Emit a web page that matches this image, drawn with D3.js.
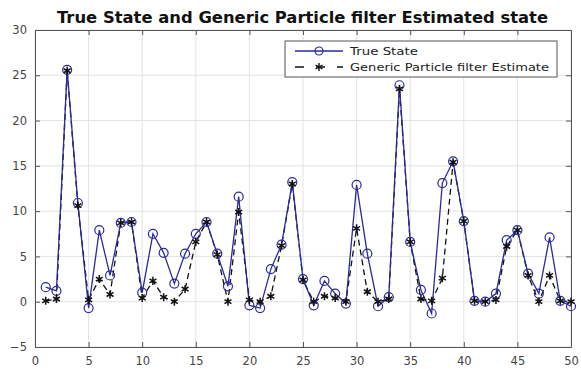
<!DOCTYPE html>
<html>
<head>
<meta charset="utf-8">
<script src="https://cdn.jsdelivr.net/npm/d3@7"></script>
<style>
  body { margin: 0; background: #fff; }
  svg { font-family: "DejaVu Sans", Verdana, sans-serif; }
</style>
</head>
<body>
<script>
// time steps 1..50
const steps = d3.range(1, 51);

const trueState = [
  1.6, 1.2, 25.6, 10.9, -0.7, 7.9, 2.9, 8.7, 8.8, 1.0,
  7.5, 5.4, 2.0, 5.3, 7.5, 8.8, 5.3, 1.7, 11.6, -0.4,
  -0.7, 3.6, 6.3, 13.2, 2.5, -0.4, 2.3, 0.9, -0.2, 12.9,
  5.3, -0.5, 0.5, 23.9, 6.6, 1.3, -1.3, 13.1, 15.5, 8.9,
  0.1, 0.0, 0.9, 6.8, 7.9, 3.1, 0.9, 7.1, 0.1, -0.5
];

const estimate = [
  0.1, 0.3, 25.5, 10.6, 0.2, 2.5, 0.8, 8.7, 8.8, 0.4,
  2.3, 0.5, 0.0, 1.4, 6.6, 8.8, 5.2, 0.0, 9.9, 0.2,
  0.0, 0.6, 6.2, 13.0, 2.4, 0.0, 0.6, 0.4, 0.0, 8.1,
  1.1, 0.0, 0.3, 23.5, 6.6, 0.3, 0.1, 2.6, 15.4, 8.9,
  0.1, 0.0, 0.2, 6.1, 7.9, 2.9, 0.0, 2.9, 0.1, 0.0
];

const xTicks = [0, 5, 10, 15, 20, 25, 30, 35, 40, 45, 50];
const yTicks = [-5, 0, 5, 10, 15, 20, 25, 30];

const width = 581, height = 369;
const margin = { top: 30, right: 10, bottom: 22, left: 35 };

const x = d3.scaleLinear().domain([0, 50]).range([margin.left, width - margin.right]);
const y = d3.scaleLinear().domain([-5, 30]).range([height - margin.bottom, margin.top]);

const svg = d3.select("body").append("svg")
    .attr("width", width)
    .attr("height", height);

// grid
svg.append("g")
    .attr("stroke", "#e3e3e3")
    .attr("stroke-width", 1)
  .selectAll("line")
  .data(xTicks)
  .join("line")
    .attr("x1", d => x(d)).attr("x2", d => x(d))
    .attr("y1", y(-5)).attr("y2", y(30));
svg.append("g")
    .attr("stroke", "#e3e3e3")
    .attr("stroke-width", 1)
  .selectAll("line")
  .data(yTicks)
  .join("line")
    .attr("x1", x(0)).attr("x2", x(50))
    .attr("y1", d => y(d)).attr("y2", d => y(d));

// axes (box style, ticks inward)
const axisStyle = g => {
  g.select(".domain").attr("stroke", "#555");
  g.selectAll(".tick line").attr("stroke", "#555");
  g.selectAll(".tick text")
    .attr("fill", "#444")
    .attr("font-size", 11.5)
    .attr("font-family", "DejaVu Sans, sans-serif");
};
svg.append("g")
    .attr("transform", `translate(0,${y(-5)})`)
    .call(d3.axisBottom(x).tickValues(xTicks).tickSizeInner(-5).tickSizeOuter(0).tickPadding(10))
    .call(axisStyle);
svg.append("g")
    .attr("transform", `translate(0,${y(30)})`)
    .call(d3.axisTop(x).tickValues(xTicks).tickSizeInner(-5).tickSizeOuter(0).tickFormat(""))
    .call(axisStyle);
svg.append("g")
    .attr("transform", `translate(${x(0)},0)`)
    .call(d3.axisLeft(y).tickValues(yTicks).tickSizeInner(-5).tickSizeOuter(0).tickPadding(8))
    .call(axisStyle);
svg.append("g")
    .attr("transform", `translate(${x(50)},0)`)
    .call(d3.axisRight(y).tickValues(yTicks).tickSizeInner(-5).tickSizeOuter(0).tickFormat(""))
    .call(axisStyle);

const line = d3.line()
    .x((d, i) => x(steps[i]))
    .y(d => y(d));

const blue = "#2a2a9c";

// estimate (black dashed with stars)
svg.append("path")
    .datum(estimate)
    .attr("fill", "none")
    .attr("stroke", "#111")
    .attr("stroke-width", 1.3)
    .attr("stroke-dasharray", "6,4")
    .attr("d", line);

// true state (blue with circles)
svg.append("path")
    .datum(trueState)
    .attr("fill", "none")
    .attr("stroke", blue)
    .attr("stroke-width", 1.3)
    .attr("d", line);

svg.append("g")
  .selectAll("circle")
  .data(trueState)
  .join("circle")
    .attr("cx", (d, i) => x(steps[i]))
    .attr("cy", d => y(d))
    .attr("r", 4.5)
    .attr("fill", "none")
    .attr("stroke", blue)
    .attr("stroke-width", 1.2);

const star = d3.symbol(d3.symbolAsterisk, 45);
svg.append("g")
  .selectAll("path")
  .data(estimate)
  .join("path")
    .attr("transform", (d, i) => `translate(${x(steps[i])},${y(d)})`)
    .attr("d", star)
    .attr("fill", "none")
    .attr("stroke", "#111")
    .attr("stroke-width", 1.5);

// title
svg.append("text")
    .attr("x", 57)
    .attr("y", 23)
    .attr("font-size", 15)
    .attr("font-weight", "bold")
    .attr("fill", "#111")
    .attr("textLength", 491)
    .attr("lengthAdjust", "spacingAndGlyphs")
    .text("True State and Generic Particle filter Estimated state");

// legend
const legend = svg.append("g").attr("transform", "translate(285,41)");
legend.append("rect")
    .attr("width", 272).attr("height", 36)
    .attr("fill", "#fff").attr("stroke", "#555").attr("stroke-width", 1);
legend.append("line")
    .attr("x1", 10).attr("x2", 58).attr("y1", 10).attr("y2", 10)
    .attr("stroke", blue).attr("stroke-width", 1.3);
legend.append("circle")
    .attr("cx", 34).attr("cy", 10).attr("r", 4)
    .attr("fill", "none").attr("stroke", blue).attr("stroke-width", 1.2);
legend.append("line")
    .attr("x1", 10).attr("x2", 58).attr("y1", 26).attr("y2", 26)
    .attr("stroke", "#111").attr("stroke-width", 1.3).attr("stroke-dasharray", "9,12");
legend.append("path")
    .attr("transform", "translate(34,26)")
    .attr("d", star)
    .attr("fill", "none").attr("stroke", "#111").attr("stroke-width", 1.4);
legend.append("text")
    .attr("x", 65).attr("y", 14)
    .attr("font-size", 11).attr("fill", "#222")
    .attr("textLength", 68).attr("lengthAdjust", "spacingAndGlyphs")
    .text("True State");
legend.append("text")
    .attr("x", 65).attr("y", 30)
    .attr("font-size", 11).attr("fill", "#222")
    .attr("textLength", 199).attr("lengthAdjust", "spacingAndGlyphs")
    .text("Generic Particle filter Estimate");
</script>
</body>
</html>
